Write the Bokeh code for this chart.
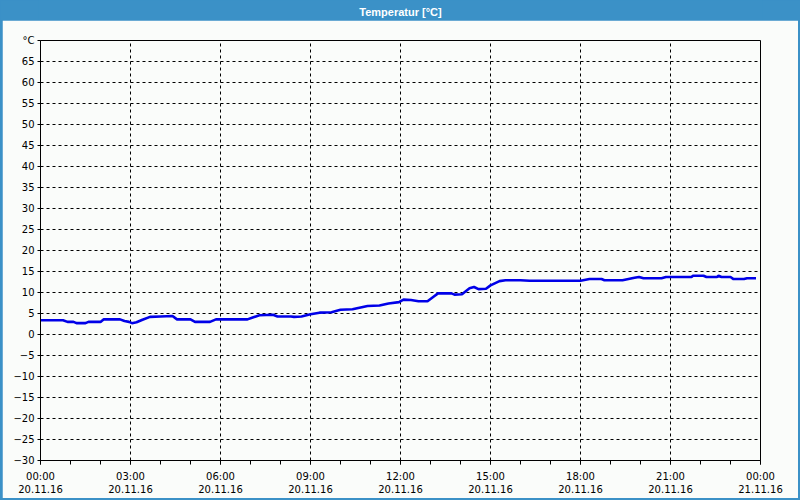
from bokeh.plotting import figure
from bokeh.models import Range1d, FixedTicker
from bokeh.layouts import column
from bokeh.core.properties import value
from bokeh.embed import file_html
from bokeh.resources import INLINE

# ---- data ----
title_text = "Temperatur [°C]"
hours = [0.0, 0.75, 0.9, 1.1, 1.2, 1.5, 1.6, 2.0, 2.1, 2.65, 2.8, 2.95, 3.05, 3.2, 3.4, 3.65,
         4.0, 4.4, 4.55, 5.0, 5.15, 5.65, 5.85, 6.9, 7.05, 7.3, 7.75, 7.9, 8.35, 8.45, 8.7,
         9.0, 9.3, 9.7, 10.0, 10.4, 10.9, 11.3, 11.6, 11.95, 12.1, 12.35, 12.6, 12.9, 13.1,
         13.25, 13.7, 13.8, 14.05, 14.3, 14.45, 14.6, 14.85, 15.0, 15.3, 15.5, 16.0, 16.3,
         18.0, 18.3, 18.7, 18.8, 19.4, 19.8, 19.95, 20.1, 20.7, 20.85, 21.7, 21.75, 22.1,
         22.2, 22.55, 22.6, 22.7, 23.0, 23.1, 23.45, 23.55, 23.85]
temps = [3.4, 3.4, 3.0, 3.0, 2.7, 2.7, 3.0, 3.0, 3.6, 3.6, 3.2, 3.0, 2.7, 2.9, 3.5, 4.2,
         4.3, 4.4, 3.6, 3.6, 3.0, 3.0, 3.6, 3.6, 4.0, 4.6, 4.7, 4.3, 4.3, 4.2, 4.3,
         4.8, 5.2, 5.3, 5.9, 6.0, 6.8, 6.9, 7.4, 7.7, 8.3, 8.2, 7.9, 7.9, 9.0,
         9.8, 9.8, 9.5, 9.6, 11.0, 11.3, 10.8, 10.9, 11.7, 12.7, 12.9, 12.9, 12.8,
         12.8, 13.2, 13.2, 12.9, 12.9, 13.5, 13.7, 13.4, 13.4, 13.7, 13.7, 14.0, 14.0,
         13.7, 13.7, 14.0, 13.7, 13.7, 13.2, 13.2, 13.4, 13.4]
y_ticks = list(range(-30, 75, 5))
x_ticks = [0, 3, 6, 9, 12, 15, 18, 21, 24]
x_tick_labels = ["00:00\n20.11.16", "03:00\n20.11.16", "06:00\n20.11.16", "09:00\n20.11.16",
                 "12:00\n20.11.16", "15:00\n20.11.16", "18:00\n20.11.16", "21:00\n20.11.16",
                 "00:00\n21.11.16"]
y_top_label = "°C"

BAR = "#3B91C7"
BG = "#FAFCFA"
FONT = "DejaVu Sans"

# ---- title bar ----
pt = figure(width=800, height=20, x_range=Range1d(0, 1), y_range=Range1d(0, 1),
            toolbar_location=None, output_backend="svg", min_border=0,
            x_axis_location=None, y_axis_location=None)
pt.background_fill_color = BAR
pt.border_fill_color = BAR
pt.outline_line_color = None
pt.grid.visible = False
pt.text(x=[0.5], y=[0.45], text=[title_text], text_align="center", text_baseline="middle",
        text_color="white", text_font=value("Liberation Sans"), text_font_size="11px",
        text_font_style="bold")

# ---- main plot ----
p = figure(width=796, height=478, x_range=Range1d(0, 24), y_range=Range1d(-30, 70),
           toolbar_location=None, output_backend="svg",
           min_border_left=38, min_border_right=38, min_border_top=20, min_border_bottom=38,
           margin=(0, 2, 2, 2))
p.background_fill_color = BG
p.border_fill_color = BG
p.outline_line_color = "black"
p.outline_line_width = 1

p.line(hours, temps, line_color="#0000E8", line_width=2.6)

p.xaxis.ticker = FixedTicker(ticks=x_ticks, minor_ticks=list(range(25)))
p.xaxis.major_label_overrides = {t: l for t, l in zip(x_ticks, x_tick_labels)}
p.yaxis.ticker = FixedTicker(ticks=y_ticks)
p.yaxis.major_label_overrides = {70: y_top_label}

for ax in (p.xaxis, p.yaxis):
    ax.axis_line_color = "black"
    ax.major_tick_line_color = "black"
    ax.minor_tick_line_color = "black"
    ax.major_label_text_font = FONT
    ax.major_label_text_font_size = "10px"
    ax.major_label_text_color = "black"
    ax.major_tick_in = 0
    ax.minor_tick_in = 0

p.xaxis.major_tick_out = 4
p.xaxis.minor_tick_out = 4
p.xaxis.major_label_standoff = 6
p.yaxis.major_tick_out = 3
p.yaxis.minor_tick_line_color = None
p.yaxis.major_label_standoff = 3

for g in (p.xgrid, p.ygrid):
    g.grid_line_color = "black"
    g.grid_line_dash = "3 3"
    g.grid_line_width = 1

layout = column(pt, p, spacing=0, styles={"background-color": BAR})
open("out.html", "w").write(file_html(layout, INLINE))
